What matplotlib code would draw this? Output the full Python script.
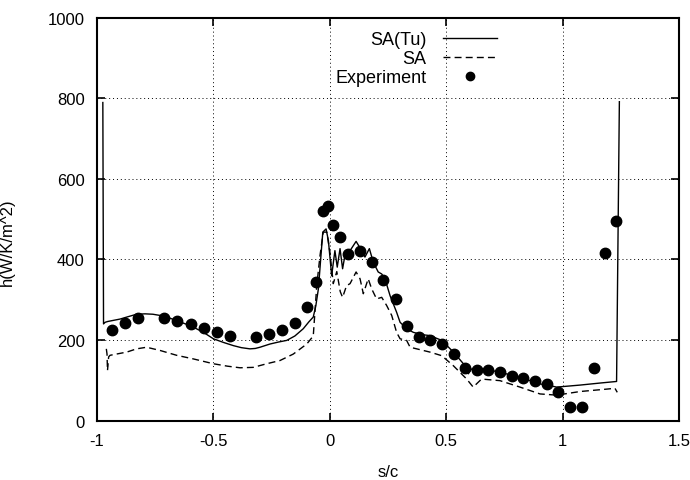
import numpy as np
import matplotlib.pyplot as plt

plt.rcParams['font.family'] = ['Liberation Sans', 'DejaVu Sans']

# SA(Tu) model curve (solid)
sa_tu_x = [-0.975, -0.972, -0.965, -0.954, -0.901, -0.872, -0.830, -0.794, -0.760, -0.729,
           -0.690, -0.658, -0.620, -0.586, -0.540, -0.500, -0.457, -0.414, -0.380, -0.343,
           -0.320, -0.300, -0.257, -0.220, -0.185, -0.150, -0.114, -0.090, -0.071, -0.060,
           -0.049, -0.039, -0.030, -0.016, -0.006, 0.008, 0.022, 0.032, 0.044, 0.055,
           0.065, 0.087, 0.113, 0.137, 0.151, 0.170, 0.187, 0.208, 0.223, 0.237,
           0.259, 0.287, 0.302, 0.330, 0.359, 0.400, 0.430, 0.481, 0.531, 0.574,
           0.595, 0.609, 0.645, 0.731, 0.817, 0.903, 0.975, 1.075, 1.160, 1.232,
           1.244]
sa_tu_y = [790, 240, 244, 246, 252, 257, 264, 265, 264, 261,
           255, 248, 240, 232, 218, 203, 194, 186, 181, 178,
           179, 182, 190, 195, 199, 210, 228, 245, 257, 285,
           327, 402, 468, 476, 447, 360, 422, 381, 427, 377,
           410, 422, 445, 422, 406, 427, 393, 369, 364, 352,
           310, 269, 244, 228, 219, 213, 211, 199, 170, 141,
           116, 128, 130, 120, 107, 91, 83, 88, 93, 97,
           792]

# SA model curve (dashed)
sa_x = [-0.960, -0.957, -0.955, -0.950, -0.944, -0.872, -0.830, -0.787, -0.729, -0.658,
        -0.586, -0.500, -0.440, -0.386, -0.329, -0.271, -0.214, -0.157, -0.099, -0.085,
        -0.071, -0.056, -0.042, -0.028, -0.013, 0.000, 0.015, 0.030, 0.045, 0.055,
        0.072, 0.087, 0.113, 0.130, 0.144, 0.165, 0.180, 0.201, 0.223, 0.244,
        0.266, 0.287, 0.302, 0.330, 0.345, 0.430, 0.481, 0.531, 0.588, 0.616,
        0.652, 0.731, 0.817, 0.903, 0.975, 1.075, 1.190, 1.225, 1.235]
sa_y = [178, 165, 124, 158, 162, 170, 178, 182, 174, 162,
        153, 141, 135, 131, 132, 141, 149, 165, 190, 200,
        210, 335, 410, 468, 468, 420, 340, 370, 320, 306,
        335, 340, 369, 352, 315, 352, 327, 302, 306, 286,
        261, 219, 203, 199, 182, 170, 161, 136, 103, 83,
        103, 99, 83, 66, 63, 72, 78, 80, 70]

# Experiment
exp_x = [-0.937, -0.880, -0.823, -0.711, -0.655, -0.598, -0.540, -0.486, -0.429, -0.317,
         -0.261, -0.207, -0.149, -0.097, -0.059, -0.028, -0.009, 0.015, 0.044, 0.080,
         0.130, 0.180, 0.227, 0.284, 0.330, 0.383, 0.430, 0.481, 0.534, 0.581,
         0.631, 0.681, 0.731, 0.781, 0.829, 0.881, 0.932, 0.982, 1.032, 1.082,
         1.135, 1.182, 1.229]
exp_y = [225, 243, 255, 254, 247, 240, 230, 221, 210, 208,
         216, 224, 243, 282, 343, 521, 534, 485, 456, 414,
         421, 395, 348, 302, 236, 207, 201, 190, 165, 130,
         126, 126, 120, 111, 105, 97, 91, 72, 33, 33,
         130, 417, 495]

fig = plt.figure(figsize=(6.9, 4.81), dpi=100)
ax = fig.add_axes([0.1406, 0.1237, 0.8434, 0.8368])

ax.plot(sa_tu_x, sa_tu_y, color='black', lw=1.0, label='SA(Tu)')
ax.plot(sa_x, sa_y, color='black', lw=1.0, ls=(0, (5, 3)), label='SA')
ax.plot(exp_x, exp_y, 'o', color='black', ms=7.5, label='Experiment')

ax.set_xlim(-1, 1.5)
ax.set_ylim(0, 1000)
ax.set_xticks([-1, -0.5, 0, 0.5, 1, 1.5])
ax.set_xticklabels(['-1', '-0.5', '0', '0.5', '1', '1.5'])
ax.set_yticks([0, 200, 400, 600, 800, 1000])
ax.grid(True, color='black', ls=(0, (1, 3)), lw=0.7)
ax.tick_params(direction='in', length=6, width=1.2, top=True, right=True,
               labelsize=12, pad=9)
for s in ax.spines.values():
    s.set_linewidth(1.5)

ax.set_xlabel('s/c', fontsize=12)
ax.set_ylabel('h(W/K/m^2)', fontsize=12)
ax.xaxis.set_label_coords(0.5, -0.108)
ax.yaxis.set_label_coords(-0.141, 0.446)

leg = ax.legend(loc='upper right', bbox_to_anchor=(0.687, 0.968), frameon=False,
                markerfirst=False, fontsize=13, handlelength=3.0, handletextpad=0.9,
                labelspacing=0.12, borderpad=0, borderaxespad=0, markerscale=0.8)

fig.savefig('out.png', dpi=100)
